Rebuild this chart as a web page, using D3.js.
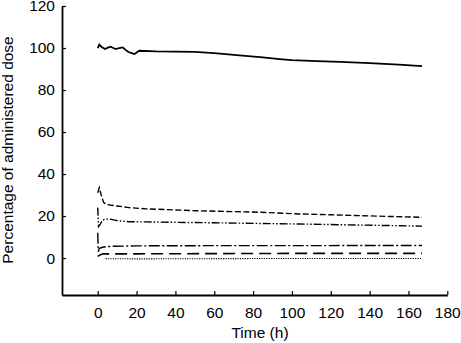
<!DOCTYPE html>
<html>
<head>
<meta charset="utf-8">
<script src="https://cdn.jsdelivr.net/npm/d3@7"></script>
<style>
  html, body { margin: 0; padding: 0; background: #fff; }
  svg { display: block; }
</style>
</head>
<body>
<svg id="chart" width="461" height="343"></svg>
<script>
// ─── Data ────────────────────────────────────────────────────────────────────

const xTicks = [0, 20, 40, 60, 80, 100, 120, 140, 160, 180];
const yTicks = [0, 20, 40, 60, 80, 100, 120];

// solid — parent compound
const solidTime  = [0, 0.8, 2, 3.8, 5.2, 6.7, 8, 9.4, 11, 12.9, 14.5, 15.8, 17.5, 18.9, 20.2, 21.4, 30, 40, 50, 60, 73, 85, 95, 100, 113, 125, 140, 155, 167];
const solidValue = [100, 101.6, 100.5, 99.5, 100.2, 100.6, 100, 99.5, 100, 100.3, 99, 98.1, 97.6, 97.1, 98, 98.7, 98.4, 98.3, 98.2, 97.6, 96.5, 95.5, 94.6, 94.2, 93.8, 93.4, 92.8, 92.1, 91.4];

// short dash
const dashTime  = [0, 0.8, 1.8, 3, 4.5, 7, 10, 16, 25, 40, 51, 65, 84, 104, 120, 135, 150, 167];
const dashValue = [31, 33.5, 30, 26.5, 25.6, 25.1, 24.8, 24, 23.4, 22.9, 22.5, 22.2, 21.8, 21, 20.6, 20.2, 19.8, 19.4];

// dash-dot-dot
const dashDotDotTime  = [0, 0.4, 1, 2.5, 4, 7, 10, 16, 25, 40, 60, 81, 104, 135, 167];
const dashDotDotValue = [24, 15, 15.7, 18, 18.6, 18.4, 17.8, 17.3, 17.2, 17, 16.8, 16.5, 16.2, 15.7, 15.2];

// dash-dot
const dashDotTime  = [0, 0.3, 0.8, 2, 4, 8, 20, 60, 100, 167];
const dashDotValue = [12, 3, 4.5, 5, 5.4, 5.6, 5.8, 5.9, 5.9, 6.0];

// long dash
const longDashTime  = [0, 1, 2, 3, 6, 20, 60, 100, 167];
const longDashValue = [0.8, 1.4, 1.8, 2, 2, 2, 2.1, 2.2, 2.2];

// dotted
const dottedTime  = [4, 20, 60, 100, 167];
const dottedValue = [-0.3, -0.4, -0.3, -0.2, -0.2];

// ─── Layout ──────────────────────────────────────────────────────────────────

const FONT = '"Liberation Sans", Arial, Helvetica, sans-serif';
const FS = 15.5;

const svg = d3.select('#chart');

const x = d3.scaleLinear().domain([-18.4, 180]).range([62, 447.3]);
const y = d3.scaleLinear().domain([-17.6, 120]).range([295, 6]);

const series = [
  { time: solidTime,      value: solidValue,      dash: null,              width: 1.8 },
  { time: dashTime,       value: dashValue,       dash: '6,2.5',           width: 1.4 },
  { time: dashDotDotTime, value: dashDotDotValue, dash: '8,2,1.5,2,1.5,2', width: 1.4 },
  { time: dashDotTime,    value: dashDotValue,    dash: '11,2.5,2,2.5',    width: 1.4 },
  { time: longDashTime,   value: longDashValue,   dash: '12,6',            width: 1.6 },
  { time: dottedTime,     value: dottedValue,     dash: '1.2,1.2',         width: 1.1 },
];

// ─── Axes ────────────────────────────────────────────────────────────────────

svg.append('g')
  .attr('transform', `translate(0,${y.range()[0]})`)
  .call(d3.axisBottom(x).tickValues(xTicks).tickSize(-4).tickSizeOuter(0).tickPadding(12))
  .call(sel => {
    sel.select('.domain').attr('stroke', '#000').attr('stroke-width', 1.8);
    sel.selectAll('.tick line').attr('stroke', '#000').attr('stroke-width', 1.2);
    sel.selectAll('text')
      .attr('fill', '#000')
      .style('font-family', FONT)
      .style('font-size', FS + 'px');
  });

svg.append('g')
  .attr('transform', `translate(${x.range()[0]},0)`)
  .call(d3.axisLeft(y).tickValues(yTicks).tickSize(-4).tickSizeOuter(0).tickPadding(7))
  .call(sel => {
    sel.select('.domain').attr('stroke', '#000').attr('stroke-width', 1.8);
    sel.selectAll('.tick line').attr('stroke', '#000').attr('stroke-width', 1.2);
    sel.selectAll('text')
      .attr('fill', '#000')
      .style('font-family', FONT)
      .style('font-size', FS + 'px');
  });

// axis titles
svg.append('text')
  .attr('x', 260).attr('y', 338)
  .attr('text-anchor', 'middle')
  .style('font-family', FONT)
  .style('font-size', FS + 'px')
  .text('Time (h)');

svg.append('text')
  .attr('transform', 'translate(13,150) rotate(-90)')
  .attr('text-anchor', 'middle')
  .style('font-family', FONT)
  .style('font-size', FS + 'px')
  .text('Percentage of administered dose');

// ─── Lines ───────────────────────────────────────────────────────────────────

const line = d3.line()
  .x(d => x(d[0]))
  .y(d => y(d[1]));

svg.append('g')
  .selectAll('path')
  .data(series)
  .join('path')
  .attr('d', s => line(s.time.map((t, i) => [t, s.value[i]])))
  .attr('fill', 'none')
  .attr('stroke', '#000')
  .attr('stroke-width', s => s.width)
  .attr('stroke-dasharray', s => s.dash);
</script>
</body>
</html>
